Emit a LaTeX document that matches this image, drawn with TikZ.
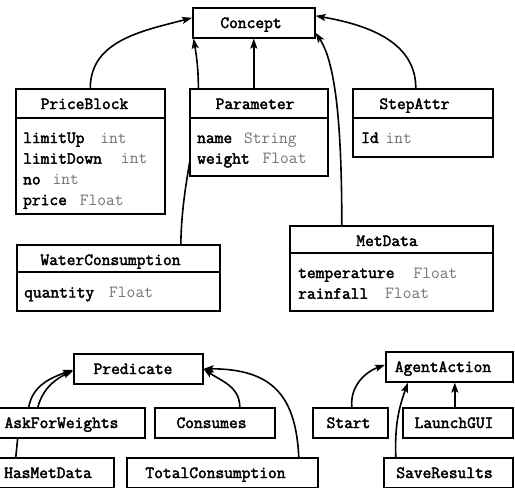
\documentclass[tikz,border=0pt]{standalone}
\usepackage{fontspec}
\usetikzlibrary{arrows.meta,calc}
\newfontfamily\hdfont{Latin Modern Mono}[FakeBold=2.5]
\definecolor{typegray}{gray}{0.45}
\newcommand\attrline[3]{{\hdfont #1}\hspace{#2pt}{\color{typegray}#3}}
\newcommand\boxfont{\ttfamily\fontsize{17}{20}\selectfont}
\pgfdeclarelayer{bg}
\pgfdeclarelayer{arrows}
\pgfsetlayers{bg,arrows,main}
\begin{document}
\begin{tikzpicture}[x=1pt,y=-1pt,
  box/.style={draw, line width=1.6pt, fill=white, inner sep=0pt, anchor=north west},
  hd/.style={font=\boxfont\hdfont, anchor=base, inner sep=0pt},
  attr/.style={font=\boxfont, anchor=base west, inner sep=0pt},
  divider/.style={line width=1.6pt},
  arr/.style={line width=1.6pt, -{Stealth[length=10pt,width=7pt,inset=2pt]}}]
\useasboundingbox (0,0) rectangle (515,488);
\begin{pgfonlayer}{bg}
\fill[white] (0,0) rectangle (515,488);
\end{pgfonlayer}

% ---------- top: Concept hierarchy ----------
\node[box, minimum width=122pt, minimum height=30pt] (concept) at (192,7) {};
\node[hd] (concepttxt) at (251,28) {Concept};

\node[box, minimum width=149pt, minimum height=125pt] (pb) at (15,88) {};
\node[hd] (pbtxt) at (84.5,109) {PriceBlock};
\draw[divider] ([yshift=-30pt]pb.north west) -- ([yshift=-30pt]pb.north east);
\node[attr] (pb1) at (23,143) {\attrline{limitUp}{16}{int}};
\node[attr] (pb2) at (23,163.7) {\attrline{limitDown}{19}{int}};
\node[attr] (pb3) at (23,184.4) {\attrline{no}{12}{int}};
\node[attr] (pb4) at (23,205.1) {\attrline{price}{13}{Float}};

\node[box, minimum width=138pt, minimum height=87pt] (par) at (189,88) {};
\node[hd] (partxt) at (255,109) {Parameter};
\draw[divider] ([yshift=-30pt]par.north west) -- ([yshift=-30pt]par.north east);
\node[attr] (par1) at (197,143) {\attrline{name}{12}{String}};
\node[attr] (par2) at (197,163.7) {\attrline{weight}{13}{Float}};

\node[box, minimum width=140pt, minimum height=68pt] (sa) at (352,88) {};
\node[hd] (satxt) at (414.5,109) {StepAttr};
\draw[divider] ([yshift=-30pt]sa.north west) -- ([yshift=-30pt]sa.north east);
\node[attr] (sa1) at (361,143) {\attrline{Id}{7}{int}};

\node[box, minimum width=203pt, minimum height=66pt] (wc) at (16,244) {};
\node[hd] (wctxt) at (110.5,265) {WaterConsumption};
\draw[divider] ([yshift=-28pt]wc.north west) -- ([yshift=-28pt]wc.north east);
\node[attr] (wc1) at (24,297.5) {\attrline{quantity}{15}{Float}};

\node[box, minimum width=203pt, minimum height=85pt] (md) at (289,225) {};
\node[hd] (mdtxt) at (387,246) {MetData};
\draw[divider] ([yshift=-28pt]md.north west) -- ([yshift=-28pt]md.north east);
\node[attr] (md1) at (298,278) {\attrline{temperature}{19}{Float}};
\node[attr] (md2) at (298,298.7) {\attrline{rainfall}{17}{Float}};

% ---------- bottom left: Predicate hierarchy ----------
\node[box, minimum width=129pt, minimum height=30pt] (pr) at (73,353) {};
\node[hd] (prtxt) at (133,374) {Predicate};
\node[box, minimum width=166pt, minimum height=30pt] (afw) at (-22,407) {};
\node[hd] (afwtxt) at (61.5,428) {AskForWeights};
\node[box, minimum width=120pt, minimum height=30pt] (cons) at (154,407) {};
\node[hd] (constxt) at (211.5,428) {Consumes};
\node[box, minimum width=131pt, minimum height=30pt] (hmd) at (-18,457) {};
\node[hd] (hmdtxt) at (48,478) {HasMetData};
\node[box, minimum width=191pt, minimum height=30pt] (tc) at (126,457) {};
\node[hd] (tctxt) at (215.5,478) {TotalConsumption};

% ---------- bottom right: AgentAction hierarchy ----------
\node[box, minimum width=127pt, minimum height=30pt] (aa) at (385,351) {};
\node[hd] (aatxt) at (443,372) {AgentAction};
\node[box, minimum width=75pt, minimum height=30pt] (start) at (312,407) {};
\node[hd] (starttxt) at (348.5,428) {Start};
\node[box, minimum width=110pt, minimum height=30pt] (lg) at (402,407) {};
\node[hd] (lgtxt) at (454,428) {LaunchGUI};
\node[box, minimum width=129pt, minimum height=30pt] (sr) at (383,457) {};
\node[hd] (srtxt) at (444.5,478) {SaveResults};

% ---------- connectors ----------
\begin{pgfonlayer}{arrows}
\draw[arr] (pb.north) to[out=90,in=195] ([yshift=5pt]concept.west);
\draw[arr] (concept.south |- par.north) -- (concept.south);
\draw[arr] ([xshift=62.5pt]wc.north) to[out=89,in=-80] ([xshift=1.5pt]concept.south west);
\draw[arr] ([xshift=-49.5pt]md.north) .. controls +(0,-100) and +(20,30) .. ([yshift=-10pt]concept.east);
\draw[arr] ([xshift=-7pt]sa.north) to[out=90,in=-10] ([yshift=7pt]concept.east);

\draw[arr] ([xshift=-33pt]afw.north) to[out=80,in=200] ([yshift=-1pt]pr.west);
\draw[arr] ([xshift=-32.5pt]hmd.north) -- ++(2,-20) -- ++(19,-25) to[out=80,in=205] ([yshift=-2pt]pr.west);
\draw[arr] ([xshift=25pt]cons.north) to[out=90,in=-35] (pr.east);
\draw[arr] ([xshift=76.5pt]tc.north) .. controls +(-3,-60) and +(70,0) .. (pr.east);

\draw[arr] ([xshift=1.5pt]start.north) to[out=95,in=200] ([yshift=2pt]aa.west);
\draw[arr] ([xshift=-52.5pt]sr.north) to[out=92,in=-110] ([xshift=23pt]aa.south west);
\draw[arr] ([xshift=-3pt]lg.north) -- ([xshift=-3pt]lg.north |- aa.south);
\end{pgfonlayer}
\end{tikzpicture}
\end{document}
